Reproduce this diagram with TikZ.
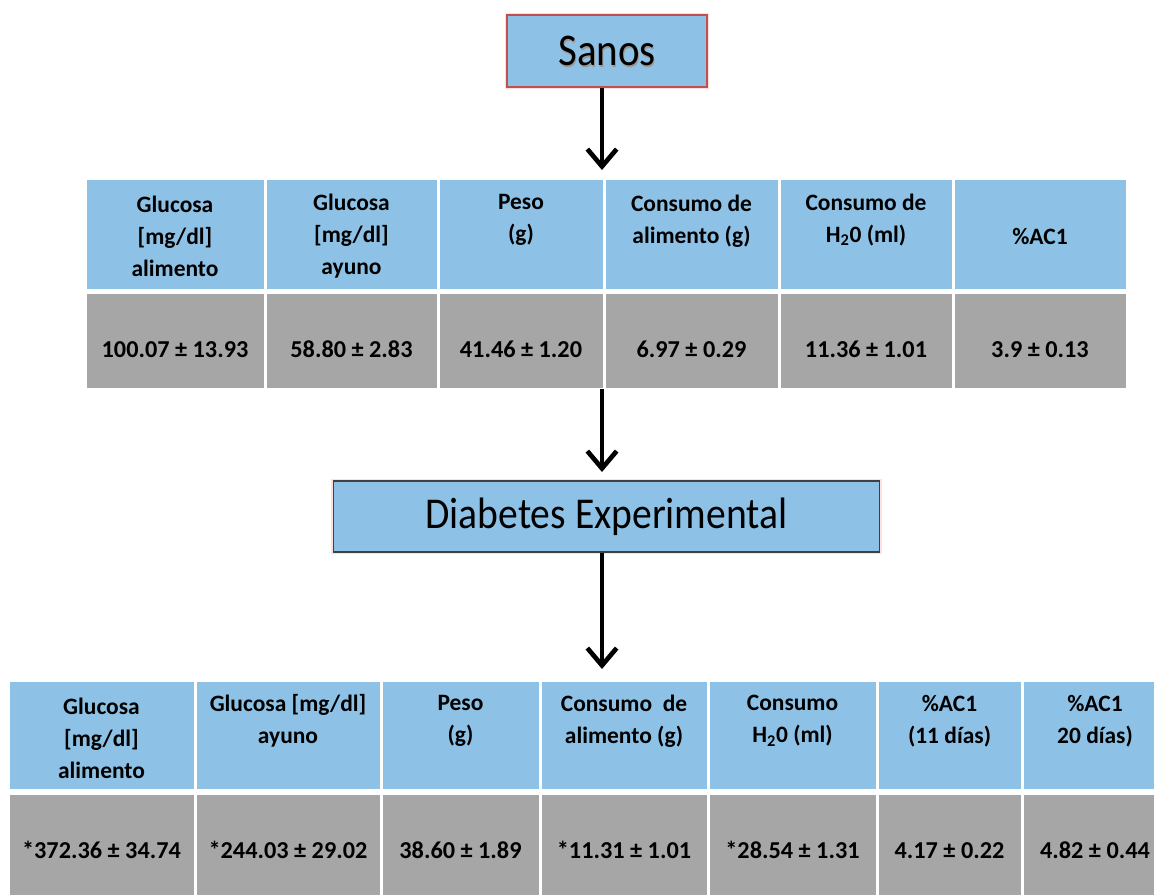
\documentclass[tikz,border=0pt]{standalone}
\usepackage{fontspec}
\setmainfont{Carlito}
\newfontfamily\titolo[FakeStretch=0.9]{Carlito}
\usepackage{tikz}
\usetikzlibrary{arrows.meta, positioning}
\definecolor{azzurro}{RGB}{141,194,230}
\definecolor{grigio}{RGB}{166,166,166}
\definecolor{bordo}{RGB}{192,80,77}
\newcommand{\acqua}{H\textsubscript{2}0}

\begin{document}
\begin{tikzpicture}[x=0.75pt, y=-0.75pt,
    freccia/.style={line width=3.5pt, -{Straight Barb[length=13pt, width=22pt]}},
    intesta/.style={align=center, font=\fontsize{17.6}{24}\selectfont\bfseries},
    valore/.style={anchor=base, font=\fontsize{18.2}{20}\selectfont\bfseries},
    titbox/.style={draw, line width=0.8pt, fill=azzurro, inner sep=0pt,
                   preaction={draw=red!12, line width=3.5pt}}]
    % Parametri
    \pgfmathsetmacro{\gap}{1.5}
    \fill[white] (0,0) rectangle (1154,894);
    \clip (0,0) rectangle (1154,894);
    % Riquadri
    \node[titbox, draw=bordo, minimum width=150pt, minimum height=54pt] (sanos) at (607,51) {};
    \node[text=black!40, font=\titolo\fontsize{34}{40}\selectfont] (sanosombra) at ([shift={(1.2,1.8)}]sanos.center) {Sanos};
    \node[font=\titolo\fontsize{34}{40}\selectfont] (sanostesto) at (sanos.center) {Sanos};
    \node[titbox, draw=black!75, minimum width=410pt, minimum height=53.25pt,
          font=\titolo\fontsize{33}{40}\selectfont] (diabetes) at (606.5,516.5) {Diabetes Experimental};
    % Tabella sanos
    \foreach \a/\b in {85/265, 265/438, 438/604, 604/779, 779/953, 953/1127} {
        \fill[azzurro] (\a+\gap,180) rectangle (\b-\gap,289);
        \fill[grigio] (\a+\gap,294) rectangle (\b-\gap,388);
    }
    \node[intesta] (s1) at (175,236) {Glucosa\\{[mg/dl]}\\alimento};
    \node[intesta] (s2) at (351.5,236) {Glucosa\\{[mg/dl]}\\ayuno};
    \node[intesta] (s3) at (521,220) {Peso\\(g)};
    \node[intesta] (s4) at (691.5,221) {Consumo de\\alimento (g)};
    \node[intesta] (s5) at (866,220) {Consumo de\\\acqua{} (ml)};
    \node[intesta] (s6) at (1040,236) {\%AC1};
    \node[valore] (sv1) at (175,357) {100.07 ± 13.93};
    \node[valore] (sv2) at (351.5,357) {58.80 ± 2.83};
    \node[valore] (sv3) at (521,357) {41.46 ± 1.20};
    \node[valore] (sv4) at (691.5,357) {6.97 ± 0.29};
    \node[valore] (sv5) at (866,357) {11.36 ± 1.01};
    \node[valore] (sv6) at (1040,357) {3.9 ± 0.13};
    % Tabella diabetes
    \foreach \a/\b in {8/195, 195/381, 381/540, 540/708, 708/877, 877/1022, 1022/1168} {
        \fill[azzurro] (\a+\gap,682) rectangle (\b-\gap,789);
        \fill[grigio] (\a+\gap,795) rectangle (\b-\gap,900);
    }
    \node[intesta] (d1) at (101.5,738) {Glucosa\\{[mg/dl]}\\alimento};
    \node[intesta] (d2) at (288,721) {Glucosa [mg/dl]\\ayuno};
    \node[intesta] (d3) at (460.5,721) {Peso\\(g)};
    \node[intesta] (d4) at (624,721) {Consumo\ \ de\\alimento (g)};
    \node[intesta] (d5) at (792.5,721) {Consumo\\\acqua{} (ml)};
    \node[intesta] (d6) at (949.5,721) {\%AC1\\(11 días)};
    \node[intesta] (d7) at (1095,721) {\%AC1\\20 días)};
    \node[valore] (dv1) at (101.5,858) {*372.36 ± 34.74};
    \node[valore] (dv2) at (288,858) {*244.03 ± 29.02};
    \node[valore] (dv3) at (460.5,858) {38.60 ± 1.89};
    \node[valore] (dv4) at (624,858) {*11.31 ± 1.01};
    \node[valore] (dv5) at (792.5,858) {*28.54 ± 1.31};
    \node[valore] (dv6) at (949.5,858) {4.17 ± 0.22};
    \node[valore] (dv7) at (1095,858) {4.82 ± 0.44};
    % Frecce
    \coordinate (p1) at (602,170);
    \coordinate (q2) at (602,389);
    \coordinate (p2) at (602,472);
    \coordinate (p3) at (602,669);
    \draw[freccia] (sanos.south -| p1) -- (p1);
    \draw[freccia] (q2) -- (p2);
    \draw[freccia] (diabetes.south -| p3) -- (p3);
\end{tikzpicture}
\end{document}
